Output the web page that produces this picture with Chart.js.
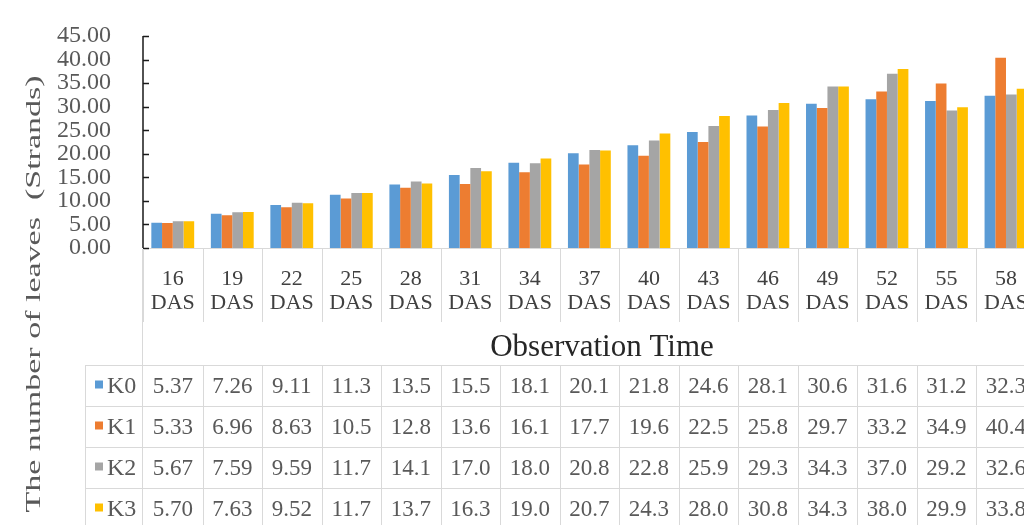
<!DOCTYPE html>
<html>
<head>
<meta charset="utf-8">
<title>Number of leaves</title>
<script src="https://cdn.jsdelivr.net/npm/chart.js@4/dist/chart.umd.min.js"></script>
<style>
  html, body { margin: 0; padding: 0; background: #fff; overflow: hidden; }
  canvas { display: block; }
</style>
</head>
<body>
<canvas id="leafChart" width="1039" height="525"></canvas>
<script>
// observation days after sowing
var days = [16, 19, 22, 25, 28, 31, 34, 37, 40, 43, 46, 49, 52, 55, 58];
// leaf counts per treatment
var treatments = ["K0", "K1", "K2", "K3"];
var k0 = [5.37, 7.26, 9.11, 11.3, 13.5, 15.5, 18.1, 20.1, 21.8, 24.6, 28.1, 30.6, 31.6, 31.2, 32.3];
var k1 = [5.33, 6.96, 8.63, 10.5, 12.8, 13.6, 16.1, 17.7, 19.6, 22.5, 25.8, 29.7, 33.2, 34.9, 40.4];
var k2 = [5.67, 7.59, 9.59, 11.7, 14.1, 17.0, 18.0, 20.8, 22.8, 25.9, 29.3, 34.3, 37.0, 29.2, 32.6];
var k3 = [5.70, 7.63, 9.52, 11.7, 13.7, 16.3, 19.0, 20.7, 24.3, 28.0, 30.8, 34.3, 38.0, 29.9, 33.8];
// y axis range
var yMin = 0, yMax = 45, yStep = 5;

var colors = ["#5b9bd5", "#ed7d31", "#a5a5a5", "#ffc000"];
var serif = "'Liberation Serif', 'Times New Roman', serif";
var lineColor = "#d9d9d9";

// table rows under the axis
var rowTop = 365, rowH = 41, tableLeft = 85;

var tablePlugin = {
    id: "dataTable",
    afterDraw: function(chart) {
        var ctx = chart.ctx;
        var x = chart.scales.x, y = chart.scales.y;
        var area = chart.chartArea;
        var half = (x.getPixelForValue(1) - x.getPixelForValue(0)) / 2;
        var n = chart.data.labels.length;
        var bottom = chart.height;

        ctx.save();

        // value axis line with inward tick marks
        ctx.strokeStyle = "#1a1a1a";
        ctx.lineWidth = 1.5;
        ctx.beginPath();
        ctx.moveTo(area.left, y.getPixelForValue(yMax));
        ctx.lineTo(area.left, area.bottom);
        y.ticks.forEach(function(t) {
            var py = Math.round(y.getPixelForValue(t.value)) + 0.5;
            ctx.moveTo(area.left, py);
            ctx.lineTo(area.left + 6, py);
        });
        ctx.stroke();

        // separators between category labels
        ctx.strokeStyle = lineColor;
        ctx.lineWidth = 1;
        ctx.beginPath();
        for (var i = 0; i <= n; i++) {
            var px = Math.round(x.getPixelForValue(i) - half) + 0.5;
            ctx.moveTo(px, area.bottom + 1);
            ctx.lineTo(px, 322);
        }
        ctx.moveTo(area.left - 0.5, area.bottom + 1);
        ctx.lineTo(area.left - 0.5, bottom);
        ctx.stroke();

        // axis title under the labels
        ctx.fillStyle = "#262626";
        ctx.font = "31px " + serif;
        ctx.textAlign = "center";
        ctx.textBaseline = "middle";
        ctx.fillText("Observation Time", 602, 348);

        // data table grid
        ctx.strokeStyle = lineColor;
        ctx.beginPath();
        for (var r = 0; r <= treatments.length; r++) {
            var ly = rowTop + r * rowH + 0.5;
            ctx.moveTo(tableLeft, ly);
            ctx.lineTo(chart.width, ly);
        }
        ctx.moveTo(tableLeft + 0.5, rowTop);
        ctx.lineTo(tableLeft + 0.5, bottom);
        for (var c = 1; c <= n; c++) {
            var cx = Math.round(x.getPixelForValue(c) - half) + 0.5;
            ctx.moveTo(cx, rowTop);
            ctx.lineTo(cx, bottom);
        }
        ctx.stroke();

        // legend keys and values
        chart.data.datasets.forEach(function(ds, r) {
            var cy = rowTop + r * rowH + rowH / 2 + 1;
            ctx.fillStyle = ds.backgroundColor;
            ctx.fillRect(95, cy - 6, 8, 8);
            ctx.fillStyle = "#595959";
            ctx.font = "24px " + serif;
            ctx.textAlign = "left";
            ctx.fillText(ds.label, 107, cy);
            ctx.font = "23px " + serif;
            ctx.textAlign = "center";
            ds.data.forEach(function(v, i) {
                ctx.fillText(v.toPrecision(3), x.getPixelForValue(i), cy);
            });
        });

        // rotated value axis title
        ctx.translate(35, 294);
        ctx.rotate(-Math.PI / 2);
        ctx.scale(1.7, 1);
        ctx.fillStyle = "#595959";
        ctx.font = "20px " + serif;
        ctx.textAlign = "center";
        ctx.fillText("The number of leaves  (Strands)", 0, 0);

        ctx.restore();
    }
};

window.onload = function(){
    var ctx = document.getElementById("leafChart");
    var series = [k0, k1, k2, k3];
    var leafChart = new Chart(ctx, {
        type: 'bar',
        data: {
            labels: days.map(function(d) { return [String(d), "DAS"]; }),
            datasets: treatments.map(function(name, i) {
                return {
                    label: name,
                    data: series[i],
                    backgroundColor: colors[i],
                    barPercentage: 1.0,
                    categoryPercentage: 0.72
                };
            })
        },
        options: {
            responsive: false,
            animation: false,
            devicePixelRatio: 1,
            layout: { padding: { top: 30, left: 0, right: 0, bottom: 0 } },
            plugins: {
                legend: { display: false },
                tooltip: { enabled: false }
            },
            scales: {
                x: {
                    grid: { display: false },
                    border: { display: true, color: lineColor },
                    ticks: {
                        color: "#404040",
                        font: { family: serif, size: 22, lineHeight: 1.1 },
                        padding: 11,
                        maxRotation: 0,
                        autoSkip: false
                    },
                    afterFit: function(scale) { scale.height = 277; }
                },
                y: {
                    min: yMin,
                    max: yMax,
                    grid: { display: false },
                    border: { display: false },
                    ticks: {
                        stepSize: yStep,
                        autoSkip: false,
                        color: "#595959",
                        padding: 24,
                        font: { family: serif, size: 24, lineHeight: 1 },
                        callback: function(v) { return v.toFixed(2); }
                    },
                    afterFit: function(scale) { scale.width = 143; }
                }
            }
        },
        plugins: [tablePlugin]
    });
}
</script>
</body>
</html>
